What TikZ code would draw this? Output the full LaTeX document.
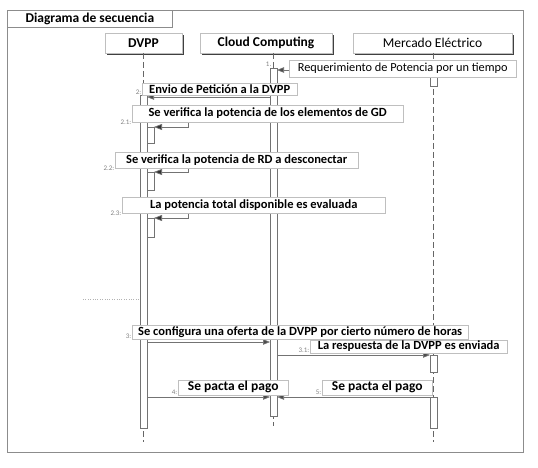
\documentclass[tikz,border=0pt]{standalone}
\usepackage{fontspec}
\setmainfont{Carlito}
\usetikzlibrary{arrows.meta,shadows}
\begin{document}
\begin{tikzpicture}[x=1pt,y=-1pt,
  frame/.style={draw=black!45, line width=0.8pt},
  tab/.style={draw=black!45, line width=0.8pt, fill=white, inner sep=0pt, font=\bfseries\fontsize{13.5}{15}\selectfont},
  head/.style={draw=black!25, fill=white, inner sep=0pt, minimum height=20pt, font=\fontsize{13.5}{15}\selectfont,
    drop shadow={shadow xshift=1.6pt, shadow yshift=-1.6pt, fill=black!75, opacity=1}},
  lbl/.style={draw=black!25, fill=white, inner sep=0pt, minimum height=14pt, anchor=south west, font=\bfseries\fontsize{12.5}{14}\selectfont},
  num/.style={font=\fontsize{7}{8}\selectfont, text=black!50, anchor=south east, inner sep=0.5pt},
  life/.style={draw=black!60, line width=0.7pt, dash pattern=on 6pt off 3pt},
  bar/.style={draw=black!55, line width=0.7pt, fill=white},
  msg/.style={draw=black!55, line width=0.7pt, -{Triangle[length=7pt,width=5.5pt,fill=black!70]}},
  loopmsg/.style={draw=black!55, line width=0.7pt, -{Triangle[length=8pt,width=6pt,fill=black!80]}}]
\useasboundingbox (0,0) rectangle (538,468);
% frame and title
\draw[frame] (7,10) rectangle (523,452);
\node[tab, anchor=north west, minimum width=165pt, minimum height=17pt] (title) at (7,10) {Diagrama de secuencia};
\coordinate (dl0) at (83,299); \coordinate (dl1) at (140,299);
\draw[black!30, dotted] (dl0) -- (dl1);
% headers
\node[head, minimum width=77pt] (hD) at (143.5,43) {\bfseries DVPP};
\node[head, minimum width=132pt] (hC) at (266,43) {\bfseries Cloud Computing};
\node[head, minimum width=159pt] (hM) at (432.5,43) {Mercado Eléctrico};
% lifelines
\coordinate (lD0) at (143.5,53); \coordinate (lD1) at (143.5,442);
\coordinate (lC0) at (273.5,53); \coordinate (lC1) at (273.5,426);
\coordinate (lM0) at (433.5,53); \coordinate (lM1) at (433.5,442);
\draw[life] (lD0) -- (lD1);
\draw[life] (lC0) -- (lC1);
\draw[life] (lM0) -- (lM1);
% activation bars
\draw[bar] (140,95) rectangle (147,428);
\draw[bar] (147,127) rectangle (154,143);
\draw[bar] (147,172) rectangle (154,190);
\draw[bar] (147,218) rectangle (154,237);
\draw[bar] (270,68) rectangle (277,416);
\draw[bar] (430,70) rectangle (437,86);
\draw[bar] (430,355) rectangle (437,372);
\draw[bar] (430,397) rectangle (437,428);
% message 1
\coordinate (m1a) at (430,70); \coordinate (m1b) at (277,70);
\draw[msg] (m1a) -- (m1b);
% message 2
\coordinate (m2a) at (270,97); \coordinate (m2b) at (147,97);
\draw[msg] (m2a) -- (m2b);
% self messages
\coordinate (s1a) at (147,122); \coordinate (s1b) at (188,122); \coordinate (s1c) at (188,127); \coordinate (s1d) at (154,127);
\draw[loopmsg] (s1a) -- (s1b) -- (s1c) -- (s1d);
\coordinate (s2a) at (147,168); \coordinate (s2b) at (188,168); \coordinate (s2c) at (188,172); \coordinate (s2d) at (154,172);
\draw[loopmsg] (s2a) -- (s2b) -- (s2c) -- (s2d);
\coordinate (s3a) at (147,213); \coordinate (s3b) at (188,213); \coordinate (s3c) at (188,218); \coordinate (s3d) at (154,218);
\draw[loopmsg] (s3a) -- (s3b) -- (s3c) -- (s3d);
% message 3, 3.1, 4, 5
\coordinate (m3a) at (147,342); \coordinate (m3b) at (270,342);
\draw[msg] (m3a) -- (m3b);
\coordinate (m31a) at (277,355); \coordinate (m31b) at (430,355);
\draw[msg] (m31a) -- (m31b);
\coordinate (m4a) at (147,397); \coordinate (m4b) at (270,397);
\draw[msg] (m4a) -- (m4b);
\coordinate (m5a) at (430,397); \coordinate (m5b) at (277,397);
\draw[msg] (m5a) -- (m5b);
% labels
\node[lbl, minimum width=227pt, minimum height=17pt, font=\fontsize{12.3}{14}\selectfont] (t1) at (289,77) {Requerimiento de Potencia por un tiempo};
\node[lbl, minimum width=155pt, minimum height=12pt] (t2) at (142,95) {Envio de Petición a la DVPP};
\node[lbl, minimum width=271pt, minimum height=17pt] (t21) at (132,122) {Se verifica la potencia de los elementos de GD};
\node[lbl, minimum width=243pt, minimum height=16pt] (t22) at (115,168) {Se verifica la potencia de RD a desconectar};
\node[lbl, minimum width=263pt, minimum height=16pt] (t23) at (122,213) {La potencia total disponible es evaluada};
\node[lbl, minimum width=336pt] (t3) at (132,339) {Se configura una oferta de la DVPP por cierto número de horas};
\node[lbl, minimum width=197pt, minimum height=13pt] (t31) at (310,353) {La respuesta de la DVPP es enviada};
\node[lbl, minimum width=110pt, minimum height=15pt, font=\bfseries\fontsize{13.5}{15}\selectfont] (t4) at (178,395) {Se pacta el pago};
\node[lbl, minimum width=110pt, minimum height=15pt, font=\bfseries\fontsize{13.5}{15}\selectfont] (t5) at (322,395) {Se pacta el pago};
% sequence numbers
\coordinate (n1p) at (272,67);
\node[num] (n1) at (n1p) {1.};
\node[num] (n2) at (t2.south west) {2:};
\node[num] (n21) at ([yshift=-3pt]t21.south west) {2.1:};
\node[num] (n22) at ([yshift=-3pt]t22.south west) {2.2:};
\node[num] (n23) at ([yshift=-3pt]t23.south west) {2.3:};
\node[num] (n3) at (t3.south west) {3:};
\node[num] (n31) at (t31.south west) {3.1:};
\node[num] (n4) at (t4.south west) {4:};
\node[num] (n5) at (t5.south west) {5:};
\end{tikzpicture}
\end{document}
